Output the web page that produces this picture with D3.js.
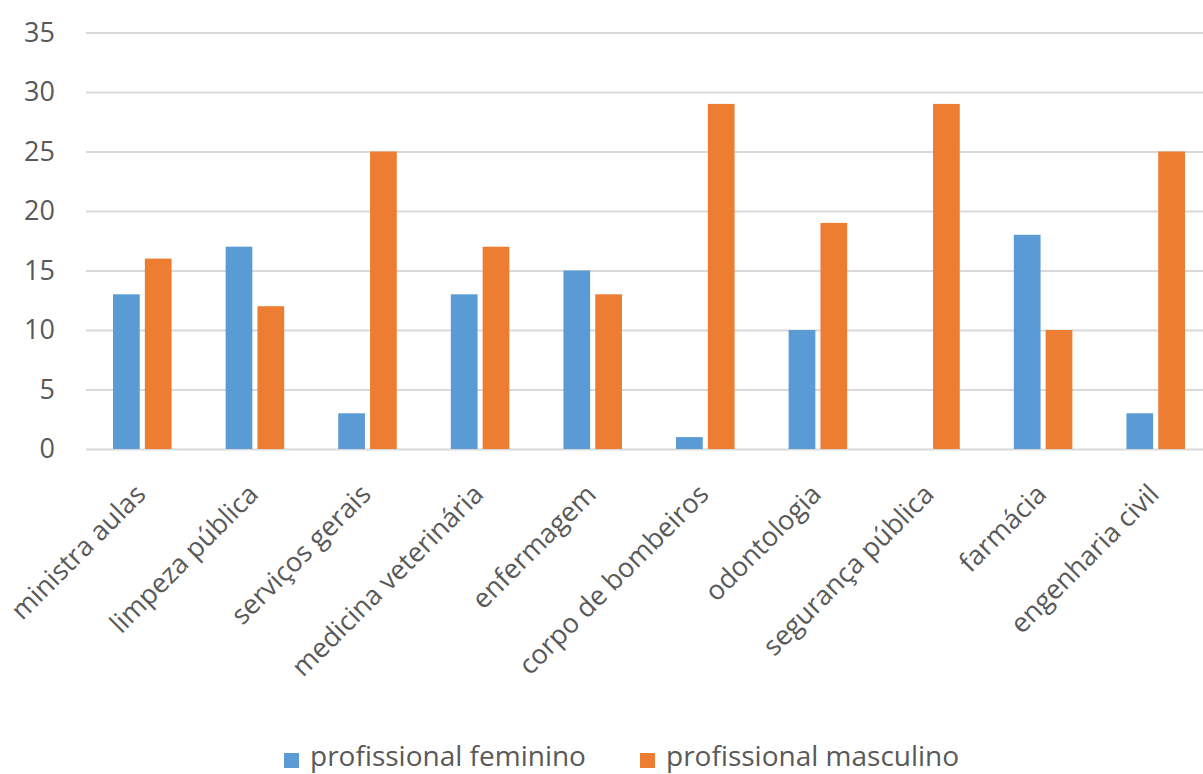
<!DOCTYPE html>
<html>
<head>
    <meta charset="utf-8">
    <title>Profissionais por área</title>
    <script src="https://d3js.org/d3.v7.min.js"></script>
    <style>
        body {
            margin: 0;
            padding: 0;
            background-color: #ffffff;
            font-family: "Open Sans", sans-serif;
        }
        text {
            font-family: "Open Sans", sans-serif;
            fill: #595959;
        }
    </style>
</head>
<body>
    <div id="chart"></div>

    <script>
        // Data
        const categories = [
            "ministra aulas", "limpeza pública", "serviços gerais", "medicina veterinária",
            "enfermagem", "corpo de bombeiros", "odontologia", "segurança pública",
            "farmácia", "engenharia civil"
        ];
        const feminino = [13, 17, 3, 13, 15, 1, 10, 0, 18, 3];
        const masculino = [16, 12, 25, 17, 13, 29, 19, 29, 10, 25];
        const yTicks = [0, 5, 10, 15, 20, 25, 30, 35];
        const seriesNames = ["profissional feminino", "profissional masculino"];
        const colors = ["#5b9bd5", "#ed7d31"];

        const W = 1203, H = 774;

        const svg = d3.select("#chart")
            .append("svg")
            .attr("width", W)
            .attr("height", H);

        const y = d3.scaleLinear()
            .domain([0, 35])
            .range([449, 32.5]);

        const x = d3.scaleBand()
            .domain(categories)
            .range([86, 1212])
            .paddingInner(0.48)
            .paddingOuter(0.24);

        const xs = d3.scaleBand()
            .domain([0, 1])
            .range([0, x.bandwidth()])
            .paddingInner(0.16);

        // gridlines + y labels
        const yAxis = svg.append("g")
            .attr("transform", "translate(86,0)")
            .call(d3.axisLeft(y).tickValues(yTicks).tickSize(-(W - 86)).tickPadding(31));
        yAxis.attr("font-family", null).attr("font-size", null);
        yAxis.select(".domain").remove();
        yAxis.selectAll(".tick line").attr("stroke", "#d9d9d9").attr("stroke-width", 2);
        yAxis.selectAll(".tick text")
            .style("font-size", "27px")
            .attr("text-anchor", "end");

        // bars
        const rows = categories.map((c, i) => ({ cat: c, vals: [feminino[i], masculino[i]] }));
        const groups = svg.selectAll(".grp")
            .data(rows)
            .enter()
            .append("g")
            .attr("class", "grp")
            .attr("transform", d => `translate(${x(d.cat)},0)`);

        groups.selectAll("rect")
            .data(d => d.vals.map((v, k) => ({ k: k, v: v })))
            .enter()
            .append("rect")
            .attr("x", d => xs(d.k))
            .attr("y", d => y(d.v))
            .attr("width", xs.bandwidth())
            .attr("height", d => y(0) - y(d.v))
            .attr("fill", d => colors[d.k]);

        // x axis labels, rotated
        const xAxis = svg.append("g")
            .attr("transform", `translate(0,${y(0)})`)
            .call(d3.axisBottom(x).tickSize(0).tickPadding(0));
        xAxis.attr("font-family", null).attr("font-size", null);
        xAxis.select(".domain").remove();
        xAxis.selectAll(".tick text")
            .style("font-size", "27px")
            .attr("text-anchor", "end")
            .attr("dy", 0)
            .attr("transform", "translate(5,47) rotate(-45)");

        // legend
        const legend = svg.append("g")
            .attr("transform", "translate(284,753)");
        const legX = [0, 356];
        seriesNames.forEach((name, i) => {
            legend.append("rect")
                .attr("x", legX[i])
                .attr("y", 0)
                .attr("width", 15)
                .attr("height", 15)
                .attr("fill", colors[i]);
            legend.append("text")
                .attr("x", legX[i] + 26)
                .attr("y", 13)
                .style("font-size", "28px")
                .text(name);
        });
    </script>
</body>
</html>
